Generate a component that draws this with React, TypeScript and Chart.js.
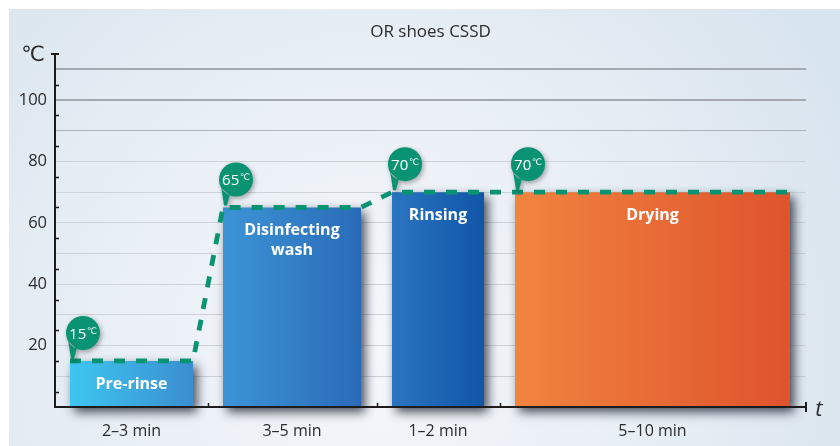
import React, { useEffect, useRef } from 'react';
import { Chart, registerables } from 'chart.js';

Chart.register(...registerables);

// ---------- data ----------
const TITLE = 'OR shoes CSSD';
const Y_UNIT = '℃';
const X_UNIT = 't';
const phaseNames = ['Pre-rinse', 'Disinfecting\nwash', 'Rinsing', 'Drying'];
const durationLabels = ['2–3 min', '3–5 min', '1–2 min', '5–10 min'];
const phaseTemps = [15, 65, 70, 70];
// schematic time axis (arbitrary units)
const phaseStart = [1.5, 16.8, 33.7, 46.0];
const phaseEnd = [13.8, 30.6, 42.9, 73.5];
const X_MAX = 75.1;
const Y_MAX = 115;
const Y_STEP = 5;
const yLabelValues = [20, 40, 60, 80, 100];

// ---------- styles ----------
const FONT = "'Open Sans', 'DejaVu Sans', sans-serif";
const barColors = [
  ['#3ec6f0', '#3a8ed1'],
  ['#3c94d6', '#2a6bb7'],
  ['#2a75c1', '#1155a7'],
  ['#f1843f', '#df532d'],
];
const LINE_GREEN = '#0a9373';
const AXIS_COLOR = '#1c1c1c';
const TEXT_COLOR = '#2b2b2b';

const centers = phaseStart.map((s, i) => (s + phaseEnd[i]) / 2);

const bgPlugin = {
  id: 'panelBg',
  beforeDraw(chart: any) {
    const { ctx, width, height } = chart;
    ctx.save();
    ctx.fillStyle = '#ffffff';
    ctx.fillRect(0, 0, width, height);
    const g = ctx.createRadialGradient(370, 340, 0, 370, 340, 540);
    g.addColorStop(0, '#f6f8fb');
    g.addColorStop(0.5, '#e9eff6');
    g.addColorStop(1, '#d8e4ee');
    ctx.fillStyle = g;
    ctx.fillRect(9, 9, width - 9, height - 9);
    ctx.restore();
  },
};

const decorPlugin = {
  id: 'decor',
  beforeDatasetsDraw(chart: any) {
    const { ctx } = chart;
    const xs = chart.scales.x;
    const ys = chart.scales.y;
    ctx.save();
    ctx.shadowColor = 'rgba(25,30,45,0.8)';
    ctx.shadowBlur = 10;
    ctx.shadowOffsetX = 10000 + 4;
    ctx.shadowOffsetY = 5;
    ctx.fillStyle = '#000';
    phaseTemps.forEach((t, i) => {
      const x0 = xs.getPixelForValue(phaseStart[i]);
      const x1 = xs.getPixelForValue(phaseEnd[i]);
      const y0 = ys.getPixelForValue(t);
      const y1 = ys.getPixelForValue(0);
      ctx.fillRect(x0 - 10000, y0, x1 - x0, y1 - y0);
    });
    ctx.restore();
  },
  afterDatasetsDraw(chart: any) {
    const { ctx } = chart;
    const xs = chart.scales.x;
    const ys = chart.scales.y;
    // bar labels
    ctx.save();
    ctx.fillStyle = '#ffffff';
    ctx.font = `bold 16px ${FONT}`;
    ctx.textAlign = 'center';
    ctx.textBaseline = 'middle';
    phaseNames.forEach((name, i) => {
      const cx = xs.getPixelForValue(centers[i]);
      const top = ys.getPixelForValue(phaseTemps[i]);
      name.split('\n').forEach((ln, k) => ctx.fillText(ln, cx, top + 23 + k * 20));
    });
    ctx.restore();
    // callouts
    phaseTemps.forEach((t, i) => {
      const ax = xs.getPixelForValue(phaseStart[i]);
      const ay = ys.getPixelForValue(t);
      const cx = ax + 13;
      const cy = ay - 28;
      const r = 17;
      ctx.save();
      ctx.shadowColor = 'rgba(0,0,0,0.35)';
      ctx.shadowBlur = 5;
      ctx.shadowOffsetX = 1.5;
      ctx.shadowOffsetY = 2;
      ctx.fillStyle = LINE_GREEN;
      ctx.beginPath();
      ctx.arc(cx, cy, r, 0, Math.PI * 2);
      ctx.closePath();
      ctx.moveTo(cx + r * Math.cos((150 * Math.PI) / 180), cy + r * Math.sin((150 * Math.PI) / 180));
      ctx.lineTo(ax + 1, ay - 2);
      ctx.lineTo(ax + 4, ay - 2);
      ctx.lineTo(cx + r * Math.cos((112 * Math.PI) / 180), cy + r * Math.sin((112 * Math.PI) / 180));
      ctx.closePath();
      ctx.fill();
      ctx.shadowColor = 'transparent';
      ctx.fillStyle = '#ffffff';
      ctx.textAlign = 'left';
      ctx.textBaseline = 'alphabetic';
      const num = String(t);
      ctx.font = `15px ${FONT}`;
      const wN = ctx.measureText(num).width;
      ctx.font = `9px ${FONT}`;
      const wU = ctx.measureText('℃').width;
      const x0 = cx - (wN + wU + 0.5) / 2;
      ctx.font = `15px ${FONT}`;
      ctx.fillText(num, x0, cy + 6);
      ctx.font = `9px ${FONT}`;
      ctx.fillText('℃', x0 + wN + 0.5, cy + 1);
      ctx.restore();
    });
  },
  afterDraw(chart: any) {
    const { ctx, chartArea } = chart;
    const xs = chart.scales.x;
    const ys = chart.scales.y;
    const { left, right, top, bottom } = chartArea;
    ctx.save();
    ctx.strokeStyle = AXIS_COLOR;
    ctx.lineWidth = 1.5;
    ctx.beginPath();
    // y minor ticks
    ys.ticks.forEach((tk: any) => {
      if (tk.value % 10 === 5 && tk.value < Y_MAX) {
        const y = Math.round(ys.getPixelForValue(tk.value)) + 0.5;
        ctx.moveTo(left, y);
        ctx.lineTo(left + 4, y);
      }
    });
    // x ticks between phases
    for (let i = 0; i < phaseStart.length - 1; i++) {
      const x = Math.round(xs.getPixelForValue((phaseEnd[i] + phaseStart[i + 1]) / 2)) + 0.5;
      ctx.moveTo(x, bottom - 4);
      ctx.lineTo(x, bottom);
    }
    ctx.stroke();
    ctx.lineWidth = 2;
    ctx.beginPath();
    ctx.moveTo(left - 4, top);
    ctx.lineTo(left + 4, top);
    ctx.moveTo(right, bottom - 5);
    ctx.lineTo(right, bottom + 5);
    ctx.stroke();
    // unit labels
    ctx.fillStyle = TEXT_COLOR;
    ctx.textAlign = 'center';
    ctx.textBaseline = 'middle';
    ctx.font = `21px ${FONT}`;
    ctx.fillText(Y_UNIT, 33, 55);
    ctx.font = `italic 22px ${FONT}`;
    ctx.fillText(X_UNIT, right + 13, bottom + 3);
    ctx.restore();
  },
};

export default function App() {
  const ref = useRef<HTMLCanvasElement>(null);
  useEffect(() => {
    if (!ref.current) return;
    const barDatasets = phaseTemps.map((t, i) => ({
      type: 'line',
      label: phaseNames[i],
      data: [
        { x: phaseStart[i], y: 0 },
        { x: phaseStart[i], y: t },
        { x: phaseEnd[i], y: t },
        { x: phaseEnd[i], y: 0 },
      ],
      fill: 'origin',
      borderWidth: 0,
      borderColor: 'rgba(0,0,0,0)',
      pointRadius: 0,
      pointHoverRadius: 0,
      tension: 0,
      order: 2,
      backgroundColor: (c: any) => {
        const chart = c.chart;
        const xs = chart.scales && chart.scales.x;
        if (!chart.chartArea || !xs) return barColors[i][0];
        const g = chart.ctx.createLinearGradient(
          xs.getPixelForValue(phaseStart[i]), 0, xs.getPixelForValue(phaseEnd[i]), 0);
        g.addColorStop(0, barColors[i][0]);
        g.addColorStop(1, barColors[i][1]);
        return g;
      },
    }));
    const stepPoints = phaseTemps.flatMap((t, i) => [
      { x: phaseStart[i], y: t },
      { x: phaseEnd[i], y: t },
    ]);
    const chart = new Chart(ref.current, {
      type: 'line',
      data: {
        datasets: [
          {
            type: 'line',
            label: 'Temperature',
            data: stepPoints,
            borderColor: LINE_GREEN,
            borderWidth: 4.8,
            borderDash: [11, 11],
            borderCapStyle: 'butt',
            borderJoinStyle: 'round',
            pointRadius: 0,
            fill: false,
            tension: 0,
            order: 0,
            clip: false,
          } as any,
          ...(barDatasets as any[]),
        ],
      },
      options: {
        responsive: false,
        animation: false,
        devicePixelRatio: 1,
        layout: { padding: { left: 0, right: 34, top: 0, bottom: 0 } },
        plugins: {
          legend: { display: false },
          tooltip: { enabled: false },
          title: {
            display: true,
            text: TITLE,
            fullSize: false,
            color: TEXT_COLOR,
            font: { family: FONT, size: 17, weight: 'normal', lineHeight: 1.2 },
            padding: { top: 22, bottom: 11.6 },
          },
        },
        scales: {
          x: {
            type: 'linear',
            min: 0,
            max: X_MAX,
            afterFit: (s: any) => { s.height = 39; },
            afterBuildTicks: (s: any) => { s.ticks = centers.map((v) => ({ value: v })); },
            grid: { display: true, drawOnChartArea: false, drawTicks: false },
            border: { display: true, color: AXIS_COLOR, width: 2, z: 1 },
            ticks: {
              autoSkip: false,
              maxRotation: 0,
              padding: 15,
              color: TEXT_COLOR,
              font: { family: FONT, size: 16 },
              callback: (_v: any, idx: number) => durationLabels[idx],
            },
          },
          y: {
            type: 'linear',
            min: 0,
            max: Y_MAX,
            afterFit: (s: any) => { s.width = 55; },
            grid: {
              drawTicks: false,
              color: (c: any) => {
                const v = c.tick && c.tick.value;
                if (v === undefined || v <= 0 || v >= Y_MAX || v % 10 !== 0) return 'rgba(0,0,0,0)';
                if (v >= 100) return '#a4a9af';
                if (v === 90) return '#adb2b8';
                return '#cdd2d7';
              },
              lineWidth: (c: any) => {
                const v = c.tick && c.tick.value;
                return v >= 100 && v < Y_MAX ? 2 : 1;
              },
            },
            border: { display: true, color: AXIS_COLOR, width: 2, z: 1 },
            ticks: {
              stepSize: Y_STEP,
              autoSkip: false,
              padding: 8,
              color: TEXT_COLOR,
              font: { family: FONT, size: 16.5 },
              callback: (v: any) => (yLabelValues.includes(Number(v)) ? String(v) : ''),
            },
          },
        },
      } as any,
      plugins: [bgPlugin, decorPlugin],
    });
    return () => chart.destroy();
  }, []);
  return (
    <div style={{ position: 'absolute', left: 0, top: 0, width: 840, height: 446 }}>
      <canvas ref={ref} width={840} height={446} style={{ display: 'block', width: 840, height: 446 }} />
    </div>
  );
}
